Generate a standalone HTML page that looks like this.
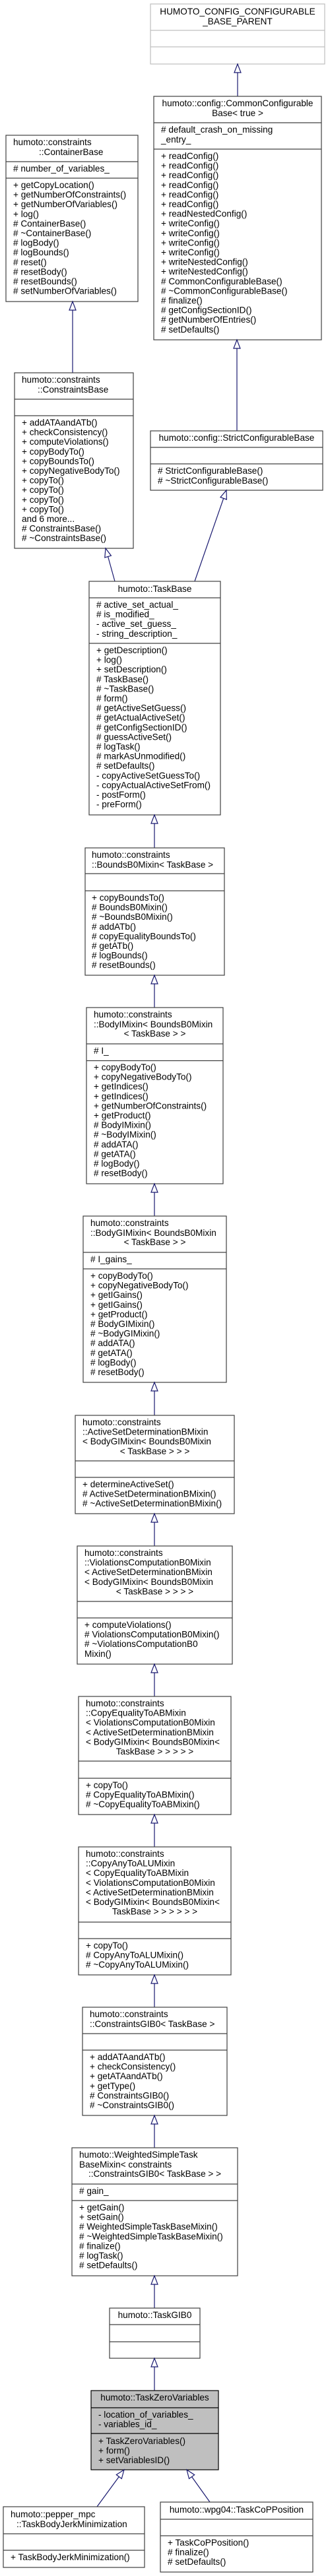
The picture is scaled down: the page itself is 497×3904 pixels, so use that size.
<!DOCTYPE html>
<html><head><meta charset="utf-8"><style>
html,body{margin:0;padding:0;background:#fff;}
svg{display:block;}
text{font-family:"Liberation Sans",Helvetica,Arial,sans-serif;font-size:13.6px;fill:#000;}
.b{fill:#fff;stroke:#404040;stroke-width:1.2;}
.g{fill:#fff;stroke:#bfbfbf;stroke-width:1.2;}
.h{fill:#bfbfbf;stroke:#000;stroke-width:1.2;}
.d{stroke:#404040;stroke-width:1.2;}
.dg{stroke:#bfbfbf;stroke-width:1.2;}
.e{stroke:#191970;stroke-width:1.2;fill:none;}
.a{fill:#fff;stroke:#191970;stroke-width:1.2;}
.m{text-anchor:middle;}
</style></head><body>
<svg width="497" height="3904" viewBox="0 0 497 3904" xmlns="http://www.w3.org/2000/svg">

<!-- HUMOTO_CONFIG_CONFIGURABLE_BASE_PARENT -->
<rect class="g" x="228" y="6" width="264" height="91"/>
<line class="dg" x1="228" y1="46" x2="492" y2="46"/>
<line class="dg" x1="228" y1="71" x2="492" y2="71"/>
<text class="m" x="360" y="22">HUMOTO_CONFIG_CONFIGURABLE</text>
<text class="m" x="360" y="37">_BASE_PARENT</text>
<line class="e" x1="360" y1="110" x2="360" y2="146"/>
<polygon class="a" points="360,97 355,110 365,110"/>

<!-- CommonConfigurableBase -->
<rect class="b" x="233" y="146" width="254" height="369"/>
<line class="d" x1="233" y1="186" x2="487" y2="186"/>
<line class="d" x1="233" y1="226" x2="487" y2="226"/>
<text class="m" x="360" y="161">humoto::config::CommonConfigurable</text>
<text class="m" x="360" y="176">Base&lt; true &gt;</text>
<text x="244" y="201"># default_crash_on_missing</text>
<text x="244" y="216">_entry_</text>
<text x="244" y="241">+ readConfig()</text>
<text x="244" y="255.6">+ readConfig()</text>
<text x="244" y="270.2">+ readConfig()</text>
<text x="244" y="284.8">+ readConfig()</text>
<text x="244" y="299.4">+ readConfig()</text>
<text x="244" y="314">+ readConfig()</text>
<text x="244" y="328.6">+ readNestedConfig()</text>
<text x="244" y="343.2">+ writeConfig()</text>
<text x="244" y="357.8">+ writeConfig()</text>
<text x="244" y="372.4">+ writeConfig()</text>
<text x="244" y="387">+ writeConfig()</text>
<text x="244" y="401.6">+ writeNestedConfig()</text>
<text x="244" y="416.2">+ writeNestedConfig()</text>
<text x="244" y="430.8"># CommonConfigurableBase()</text>
<text x="244" y="445.4"># ~CommonConfigurableBase()</text>
<text x="244" y="460"># finalize()</text>
<text x="244" y="474.6"># getConfigSectionID()</text>
<text x="244" y="489.2"># getNumberOfEntries()</text>
<text x="244" y="503.8"># setDefaults()</text>
<line class="e" x1="359" y1="528" x2="359" y2="653"/>
<polygon class="a" points="359,515 354,528 364,528"/>

<!-- ContainerBase -->
<rect class="b" x="9" y="205" width="200" height="252"/>
<line class="d" x1="9" y1="245" x2="209" y2="245"/>
<line class="d" x1="9" y1="270" x2="209" y2="270"/>
<text x="20" y="220">humoto::constraints</text>
<text x="59" y="235">::ContainerBase</text>
<text x="20" y="260"># number_of_variables_</text>
<text x="20" y="285">+ getCopyLocation()</text>
<text x="20" y="299.6">+ getNumberOfConstraints()</text>
<text x="20" y="314.2">+ getNumberOfVariables()</text>
<text x="20" y="328.8">+ log()</text>
<text x="20" y="343.4"># ContainerBase()</text>
<text x="20" y="358"># ~ContainerBase()</text>
<text x="20" y="372.6"># logBody()</text>
<text x="20" y="387.2"># logBounds()</text>
<text x="20" y="401.8"># reset()</text>
<text x="20" y="416.4"># resetBody()</text>
<text x="20" y="431"># resetBounds()</text>
<text x="20" y="445.6"># setNumberOfVariables()</text>
<line class="e" x1="110" y1="470" x2="110" y2="565"/>
<polygon class="a" points="110,457 105,470 115,470"/>

<!-- ConstraintsBase -->
<rect class="b" x="22" y="565" width="180" height="266"/>
<line class="d" x1="22" y1="605" x2="202" y2="605"/>
<line class="d" x1="22" y1="630" x2="202" y2="630"/>
<text x="33" y="580">humoto::constraints</text>
<text x="57" y="595">::ConstraintsBase</text>
<text x="33" y="645">+ addATAandATb()</text>
<text x="33" y="659.6">+ checkConsistency()</text>
<text x="33" y="674.2">+ computeViolations()</text>
<text x="33" y="688.8">+ copyBodyTo()</text>
<text x="33" y="703.4">+ copyBoundsTo()</text>
<text x="33" y="718">+ copyNegativeBodyTo()</text>
<text x="33" y="732.6">+ copyTo()</text>
<text x="33" y="747.2">+ copyTo()</text>
<text x="33" y="761.8">+ copyTo()</text>
<text x="33" y="776.4">+ copyTo()</text>
<text x="33" y="791">and 6 more...</text>
<text x="33" y="805.6"># ConstraintsBase()</text>
<text x="33" y="820.2"># ~ConstraintsBase()</text>

<!-- StrictConfigurableBase -->
<rect class="b" x="228" y="653" width="261" height="90"/>
<line class="d" x1="228" y1="678" x2="489" y2="678"/>
<line class="d" x1="228" y1="703" x2="489" y2="703"/>
<text class="m" x="358.5" y="668">humoto::config::StrictConfigurableBase</text>
<text x="239" y="718"># StrictConfigurableBase()</text>
<text x="239" y="733"># ~StrictConfigurableBase()</text>

<!-- arrows to TaskBase -->
<line class="e" x1="163.6" y1="843.5" x2="174" y2="881"/>
<polygon class="a" points="160,831 168.4,842.1 158.8,844.9"/>
<line class="e" x1="338.7" y1="755.3" x2="295" y2="881"/>
<polygon class="a" points="343,743 343.4,757 334,753.6"/>

<!-- TaskBase -->
<rect class="b" x="135" y="881" width="199" height="354"/>
<line class="d" x1="135" y1="906" x2="334" y2="906"/>
<line class="d" x1="135" y1="975" x2="334" y2="975"/>
<text class="m" x="234.5" y="897">humoto::TaskBase</text>
<text x="146" y="921"># active_set_actual_</text>
<text x="146" y="935.6"># is_modified_</text>
<text x="146" y="950.2">- active_set_guess_</text>
<text x="146" y="964.8">- string_description_</text>
<text x="146" y="990">+ getDescription()</text>
<text x="146" y="1004.6">+ log()</text>
<text x="146" y="1019.2">+ setDescription()</text>
<text x="146" y="1033.8"># TaskBase()</text>
<text x="146" y="1048.4"># ~TaskBase()</text>
<text x="146" y="1063"># form()</text>
<text x="146" y="1077.6"># getActiveSetGuess()</text>
<text x="146" y="1092.2"># getActualActiveSet()</text>
<text x="146" y="1106.8"># getConfigSectionID()</text>
<text x="146" y="1121.4"># guessActiveSet()</text>
<text x="146" y="1136"># logTask()</text>
<text x="146" y="1150.6"># markAsUnmodified()</text>
<text x="146" y="1165.2"># setDefaults()</text>
<text x="146" y="1179.8">- copyActiveSetGuessTo()</text>
<text x="146" y="1194.4">- copyActualActiveSetFrom()</text>
<text x="146" y="1209">- postForm()</text>
<text x="146" y="1223.6">- preForm()</text>
<line class="e" x1="234" y1="1248" x2="234" y2="1285"/>
<polygon class="a" points="234,1235 229,1248 239,1248"/>

<!-- BoundsB0Mixin -->
<rect class="b" x="129" y="1285" width="211" height="193"/>
<line class="d" x1="129" y1="1324" x2="340" y2="1324"/>
<line class="d" x1="129" y1="1350" x2="340" y2="1350"/>
<text x="139" y="1300">humoto::constraints</text>
<text x="139" y="1315">::BoundsB0Mixin&lt; TaskBase &gt;</text>
<text x="139" y="1365">+ copyBoundsTo()</text>
<text x="139" y="1379.6"># BoundsB0Mixin()</text>
<text x="139" y="1394.2"># ~BoundsB0Mixin()</text>
<text x="139" y="1408.8"># addATb()</text>
<text x="139" y="1423.4"># copyEqualityBoundsTo()</text>
<text x="139" y="1438"># getATb()</text>
<text x="139" y="1452.6"># logBounds()</text>
<text x="139" y="1467.2"># resetBounds()</text>
<line class="e" x1="234" y1="1491" x2="234" y2="1527"/>
<polygon class="a" points="234,1478 229,1491 239,1491"/>

<!-- BodyIMixin -->
<rect class="b" x="131" y="1527" width="207" height="267"/>
<line class="d" x1="131" y1="1582" x2="338" y2="1582"/>
<line class="d" x1="131" y1="1607.5" x2="338" y2="1607.5"/>
<text x="142" y="1542">humoto::constraints</text>
<text x="142" y="1557">::BodyIMixin&lt; BoundsB0Mixin</text>
<text class="m" x="234.5" y="1571">&lt; TaskBase &gt; &gt;</text>
<text x="142" y="1597"># I_</text>
<text x="142" y="1622">+ copyBodyTo()</text>
<text x="142" y="1636.6">+ copyNegativeBodyTo()</text>
<text x="142" y="1651.2">+ getIndices()</text>
<text x="142" y="1665.8">+ getIndices()</text>
<text x="142" y="1680.4">+ getNumberOfConstraints()</text>
<text x="142" y="1695">+ getProduct()</text>
<text x="142" y="1709.6"># BodyIMixin()</text>
<text x="142" y="1724.2"># ~BodyIMixin()</text>
<text x="142" y="1738.8"># addATA()</text>
<text x="142" y="1753.4"># getATA()</text>
<text x="142" y="1768"># logBody()</text>
<text x="142" y="1782.6"># resetBody()</text>
<line class="e" x1="234" y1="1807" x2="234" y2="1843"/>
<polygon class="a" points="234,1794 229,1807 239,1807"/>

<!-- BodyGIMixin -->
<rect class="b" x="126" y="1843" width="217" height="252"/>
<line class="d" x1="126" y1="1898" x2="343" y2="1898"/>
<line class="d" x1="126" y1="1923" x2="343" y2="1923"/>
<text x="137" y="1858">humoto::constraints</text>
<text x="137" y="1873">::BodyGIMixin&lt; BoundsB0Mixin</text>
<text class="m" x="234.5" y="1887">&lt; TaskBase &gt; &gt;</text>
<text x="137" y="1913"># I_gains_</text>
<text x="137" y="1938">+ copyBodyTo()</text>
<text x="137" y="1952.6">+ copyNegativeBodyTo()</text>
<text x="137" y="1967.2">+ getIGains()</text>
<text x="137" y="1981.8">+ getIGains()</text>
<text x="137" y="1996.4">+ getProduct()</text>
<text x="137" y="2011"># BodyGIMixin()</text>
<text x="137" y="2025.6"># ~BodyGIMixin()</text>
<text x="137" y="2040.2"># addATA()</text>
<text x="137" y="2054.8"># getATA()</text>
<text x="137" y="2069.4"># logBody()</text>
<text x="137" y="2084"># resetBody()</text>
<line class="e" x1="234" y1="2108" x2="234" y2="2145"/>
<polygon class="a" points="234,2095 229,2108 239,2108"/>

<!-- ActiveSetDeterminationBMixin -->
<rect class="b" x="114" y="2145" width="241" height="149"/>
<line class="d" x1="114" y1="2214" x2="355" y2="2214"/>
<line class="d" x1="114" y1="2239" x2="355" y2="2239"/>
<text x="125" y="2160">humoto::constraints</text>
<text x="125" y="2174.6">::ActiveSetDeterminationBMixin</text>
<text x="125" y="2189.2">&lt; BodyGIMixin&lt; BoundsB0Mixin</text>
<text class="m" x="234.5" y="2203.8">&lt; TaskBase &gt; &gt; &gt;</text>
<text x="125" y="2254">+ determineActiveSet()</text>
<text x="125" y="2268.6"># ActiveSetDeterminationBMixin()</text>
<text x="125" y="2283.2"># ~ActiveSetDeterminationBMixin()</text>
<line class="e" x1="234" y1="2307" x2="234" y2="2343"/>
<polygon class="a" points="234,2294 229,2307 239,2307"/>

<!-- ViolationsComputationB0Mixin -->
<rect class="b" x="117" y="2343" width="235" height="179"/>
<line class="d" x1="117" y1="2427" x2="352" y2="2427"/>
<line class="d" x1="117" y1="2452" x2="352" y2="2452"/>
<text x="128" y="2358">humoto::constraints</text>
<text x="128" y="2372.6">::ViolationsComputationB0Mixin</text>
<text x="128" y="2387.2">&lt; ActiveSetDeterminationBMixin</text>
<text x="128" y="2401.8">&lt; BodyGIMixin&lt; BoundsB0Mixin</text>
<text class="m" x="234.5" y="2416.4">&lt; TaskBase &gt; &gt; &gt; &gt;</text>
<text x="128" y="2467">+ computeViolations()</text>
<text x="128" y="2481.6"># ViolationsComputationB0Mixin()</text>
<text x="128" y="2496.2"># ~ViolationsComputationB0</text>
<text x="128" y="2510.8">Mixin()</text>
<line class="e" x1="234" y1="2535" x2="234" y2="2571"/>
<polygon class="a" points="234,2522 229,2535 239,2535"/>

<!-- CopyEqualityToABMixin -->
<rect class="b" x="119" y="2571" width="231" height="179"/>
<line class="d" x1="119" y1="2669" x2="350" y2="2669"/>
<line class="d" x1="119" y1="2695" x2="350" y2="2695"/>
<text x="130" y="2586">humoto::constraints</text>
<text x="130" y="2600.6">::CopyEqualityToABMixin</text>
<text x="130" y="2615.2">&lt; ViolationsComputationB0Mixin</text>
<text x="130" y="2629.8">&lt; ActiveSetDeterminationBMixin</text>
<text x="130" y="2644.4">&lt; BodyGIMixin&lt; BoundsB0Mixin&lt;</text>
<text class="m" x="234.5" y="2659">TaskBase &gt; &gt; &gt; &gt; &gt;</text>
<text x="130" y="2710">+ copyTo()</text>
<text x="130" y="2724.6"># CopyEqualityToABMixin()</text>
<text x="130" y="2739.2"># ~CopyEqualityToABMixin()</text>
<line class="e" x1="234" y1="2763" x2="234" y2="2799"/>
<polygon class="a" points="234,2750 229,2763 239,2763"/>

<!-- CopyAnyToALUMixin -->
<rect class="b" x="119" y="2799" width="231" height="194"/>
<line class="d" x1="119" y1="2913" x2="350" y2="2913"/>
<line class="d" x1="119" y1="2938" x2="350" y2="2938"/>
<text x="130" y="2814">humoto::constraints</text>
<text x="130" y="2828.6">::CopyAnyToALUMixin</text>
<text x="130" y="2843.2">&lt; CopyEqualityToABMixin</text>
<text x="130" y="2857.8">&lt; ViolationsComputationB0Mixin</text>
<text x="130" y="2872.4">&lt; ActiveSetDeterminationBMixin</text>
<text x="130" y="2887">&lt; BodyGIMixin&lt; BoundsB0Mixin&lt;</text>
<text class="m" x="234.5" y="2901.6">TaskBase &gt; &gt; &gt; &gt; &gt; &gt;</text>
<text x="130" y="2953">+ copyTo()</text>
<text x="130" y="2967.6"># CopyAnyToALUMixin()</text>
<text x="130" y="2982.2"># ~CopyAnyToALUMixin()</text>
<line class="e" x1="234" y1="3006" x2="234" y2="3042"/>
<polygon class="a" points="234,2993 229,3006 239,3006"/>

<!-- ConstraintsGIB0 -->
<rect class="b" x="125" y="3042" width="219" height="164"/>
<line class="d" x1="125" y1="3082" x2="344" y2="3082"/>
<line class="d" x1="125" y1="3107" x2="344" y2="3107"/>
<text x="136" y="3057">humoto::constraints</text>
<text x="136" y="3072">::ConstraintsGIB0&lt; TaskBase &gt;</text>
<text x="136" y="3122">+ addATAandATb()</text>
<text x="136" y="3136.6">+ checkConsistency()</text>
<text x="136" y="3151.2">+ getATAandATb()</text>
<text x="136" y="3165.8">+ getType()</text>
<text x="136" y="3180.4"># ConstraintsGIB0()</text>
<text x="136" y="3195"># ~ConstraintsGIB0()</text>
<line class="e" x1="234" y1="3219" x2="234" y2="3255"/>
<polygon class="a" points="234,3206 229,3219 239,3219"/>

<!-- WeightedSimpleTaskBaseMixin -->
<rect class="b" x="109" y="3255" width="251" height="194"/>
<line class="d" x1="109" y1="3310" x2="360" y2="3310"/>
<line class="d" x1="109" y1="3335" x2="360" y2="3335"/>
<text x="120" y="3270">humoto::WeightedSimpleTask</text>
<text x="120" y="3285">BaseMixin&lt; constraints</text>
<text class="m" x="234.5" y="3299">::ConstraintsGIB0&lt; TaskBase &gt; &gt;</text>
<text x="120" y="3325"># gain_</text>
<text x="120" y="3350">+ getGain()</text>
<text x="120" y="3364.6">+ setGain()</text>
<text x="120" y="3379.2"># WeightedSimpleTaskBaseMixin()</text>
<text x="120" y="3393.8"># ~WeightedSimpleTaskBaseMixin()</text>
<text x="120" y="3408.4"># finalize()</text>
<text x="120" y="3423"># logTask()</text>
<text x="120" y="3437.6"># setDefaults()</text>
<line class="e" x1="234" y1="3462" x2="234" y2="3498"/>
<polygon class="a" points="234,3449 229,3462 239,3462"/>

<!-- TaskGIB0 -->
<rect class="b" x="166" y="3498" width="137" height="76"/>
<line class="d" x1="166" y1="3523" x2="303" y2="3523"/>
<line class="d" x1="166" y1="3549" x2="303" y2="3549"/>
<text class="m" x="234.5" y="3513">humoto::TaskGIB0</text>
<line class="e" x1="234" y1="3587" x2="234" y2="3623"/>
<polygon class="a" points="234,3574 229,3587 239,3587"/>

<!-- TaskZeroVariables -->
<rect class="h" x="138" y="3623" width="193" height="120"/>
<line class="d" x1="138" y1="3649" x2="331" y2="3649" style="stroke:#000"/>
<line class="d" x1="138" y1="3688" x2="331" y2="3688" style="stroke:#000"/>
<text class="m" x="234.5" y="3638">humoto::TaskZeroVariables</text>
<text x="149" y="3664">- location_of_variables_</text>
<text x="149" y="3678.6">- variables_id_</text>
<text x="149" y="3704">+ TaskZeroVariables()</text>
<text x="149" y="3718.6">+ form()</text>
<text x="149" y="3733.2">+ setVariablesID()</text>

<!-- arrows to children -->
<line class="e" x1="180.3" y1="3753.5" x2="147" y2="3799"/>
<polygon class="a" points="188,3743 184.3,3756.5 176.3,3750.5"/>
<line class="e" x1="290.6" y1="3753.6" x2="318" y2="3792"/>
<polygon class="a" points="283,3743 294.7,3750.7 286.5,3756.5"/>

<!-- TaskBodyJerkMinimization -->
<rect class="b" x="5" y="3799" width="214" height="92"/>
<line class="d" x1="5" y1="3840" x2="219" y2="3840"/>
<line class="d" x1="5" y1="3865" x2="219" y2="3865"/>
<text x="16" y="3815">humoto::pepper_mpc</text>
<text x="25" y="3830">::TaskBodyJerkMinimization</text>
<text x="16" y="3880">+ TaskBodyJerkMinimization()</text>

<!-- TaskCoPPosition -->
<rect class="b" x="243" y="3792" width="231" height="106"/>
<line class="d" x1="243" y1="3818" x2="474" y2="3818"/>
<line class="d" x1="243" y1="3843" x2="474" y2="3843"/>
<text class="m" x="358.5" y="3808">humoto::wpg04::TaskCoPPosition</text>
<text x="254" y="3858">+ TaskCoPPosition()</text>
<text x="254" y="3872.6"># finalize()</text>
<text x="254" y="3887.2"># setDefaults()</text>
</svg>
</body></html>
